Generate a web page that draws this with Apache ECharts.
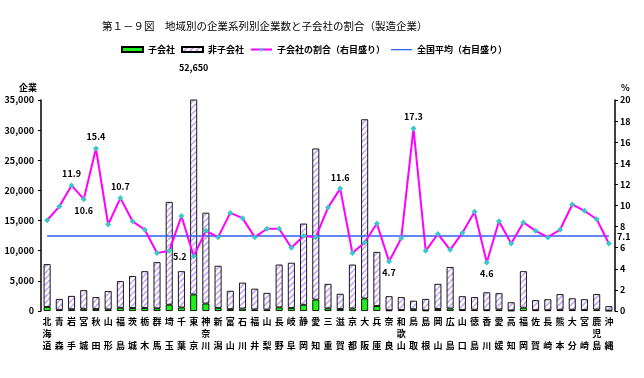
<!DOCTYPE html>
<html><head><meta charset="utf-8">
<script src="https://cdn.jsdelivr.net/npm/echarts@6/dist/echarts.min.js"></script>
<style>html,body{margin:0;padding:0;background:#fff}#c{width:644px;height:378px}</style>
</head><body><div id="c"></div>
<script>
const titleText = '第１－９図　地域別の企業系列別企業数と子会社の割合（製造企業）';
const prefectures = ['北海道','青森','岩手','宮城','秋田','山形','福島','茨城','栃木','群馬','埼玉','千葉','東京','神奈川','新潟','富山','石川','福井','山梨','長野','岐阜','静岡','愛知','三重','滋賀','京都','大阪','兵庫','奈良','和歌山','鳥取','島根','岡山','広島','山口','徳島','香川','愛媛','高知','福岡','佐賀','長崎','熊本','大分','宮崎','鹿児島','沖縄'];
const subsidiaries = [670,200,300,370,350,270,530,490,500,450,1040,590,2740,1240,520,310,410,260,230,600,480,1030,1890,440,330,420,2080,820,120,160,290,110,330,420,180,220,140,250,90,550,140,140,210,210,180,240,50];
const nonSubsidiaries = [7100,1800,2200,3080,1950,3030,4420,5310,6100,7650,17060,6010,49910,15060,6980,3040,4290,3440,2770,7100,7520,13470,25060,4060,2520,7280,29720,8980,2330,2140,1410,1890,4170,6880,2270,2080,2960,2700,1360,6050,1660,1810,2590,1890,1770,2560,750];
const subsidiaryRatio = [8.6,9.9,11.9,10.6,15.4,8.2,10.7,8.5,7.7,5.5,5.7,9.0,5.2,7.6,7.0,9.3,8.8,7.0,7.8,7.8,6.0,7.1,7.0,9.8,11.6,5.5,6.5,8.3,4.7,6.9,17.3,5.7,7.3,5.8,7.4,9.4,4.6,8.5,6.4,8.4,7.6,7.0,7.7,10.1,9.5,8.7,6.4];
const nationalAverage = 7.1;
const leftTicks = {min:0, max:35000, interval:5000};
const rightTicks = {min:0, max:20, interval:2};
const labeledRatio = {'岩手':'top','宮城':'bottom','秋田':'top','福島':'top','東京':'left','滋賀':'top','奈良':'bottom','鳥取':'top','香川':'bottom'};
const seriesNames = ['子会社','非子会社','子会社の割合（右目盛り）','全国平均（右目盛り）'];

const FONT = '"Noto Sans CJK JP", sans-serif';
const tokyoIdx = prefectures.indexOf('東京');
const tokyoTotal = subsidiaries[tokyoIdx] + nonSubsidiaries[tokyoIdx];

function makeHatch() {
  const n = 6;
  const cv = document.createElement('canvas');
  cv.width = n; cv.height = n;
  const g = cv.getContext('2d');
  g.fillStyle = '#ffffff'; g.fillRect(0, 0, n, n);
  g.strokeStyle = '#c6aaf4'; g.lineWidth = 1.7;
  for (let k = -1; k <= 1; k++) {
    g.beginPath();
    g.moveTo(k * n, n); g.lineTo(k * n + n, 0);
    g.stroke();
  }
  return cv;
}
const hatch = {image: makeHatch(), repeat: 'repeat'};
const thinLineIcon = 'path://M0,0L0.05,0L0.05,0.05ZM0,2L21,2L21,3.3L0,3.3ZM0,5L0.05,5L0.05,4.95Z';

const ratioData = subsidiaryRatio.map((v, i) => {
  const pos = labeledRatio[prefectures[i]];
  if (!pos) return v;
  return {value: v, label: {show: true, position: pos, distance: 4}};
});

const chart = echarts.init(document.getElementById('c'), null, {renderer: 'canvas'});
chart.setOption({
  backgroundColor: '#ffffff',
  animation: false,
  textStyle: {fontFamily: FONT, color: '#000'},
  title: {text: titleText, left: 97, top: 16,
    textStyle: {fontFamily: FONT, fontSize: 10.5, fontWeight: 'normal', color: '#000'}},
  legend: {
    left: 121, top: 45, itemWidth: 21, itemHeight: 5, itemGap: 6, padding: 0,
    textStyle: {fontFamily: FONT, fontSize: 9, fontWeight: 'bold', color: '#000'},
    data: [
      {name: seriesNames[0], icon: 'rect'},
      {name: seriesNames[1], icon: 'rect'},
      {name: seriesNames[2]},
      {name: seriesNames[3], icon: thinLineIcon, itemStyle: {color: '#3060f0'}}
    ]
  },
  grid: {left: 41, right: 29, top: 100, bottom: 67},
  xAxis: {
    type: 'category', data: prefectures,
    axisLine: {show: false}, axisTick: {show: false},
    axisLabel: {interval: 0, margin: 5, fontSize: 9, fontWeight: 'bold', lineHeight: 12, color: '#000',
      formatter: s => s.length === 2 ? s[0] + '\n\n' + s[1] : s.split('').join('\n')}
  },
  yAxis: [
    {type: 'value', min: leftTicks.min, max: leftTicks.max, interval: leftTicks.interval,
      name: '企業', nameLocation: 'end', nameGap: 8,
      nameTextStyle: {fontSize: 9, fontWeight: 'bold', color: '#000', align: 'right', padding: [0, 4, 0, 0]},
      axisLine: {show: true, lineStyle: {color: '#000', width: 1.5}},
      axisTick: {show: true, length: 3, lineStyle: {color: '#000'}},
      splitLine: {show: false},
      axisLabel: {fontSize: 9, fontWeight: 'bold', color: '#000', margin: 7,
        formatter: v => v.toLocaleString('en-US')}},
    {type: 'value', min: rightTicks.min, max: rightTicks.max, interval: rightTicks.interval,
      name: '%', nameLocation: 'end', nameGap: 8,
      nameTextStyle: {fontSize: 9, fontWeight: 'bold', color: '#000', align: 'left', padding: [0, 0, 0, 6]},
      axisLine: {show: true, lineStyle: {color: '#000', width: 1.5}},
      axisTick: {show: true, length: 3, lineStyle: {color: '#000'}},
      splitLine: {show: false},
      axisLabel: {fontSize: 9, fontWeight: 'bold', color: '#000', margin: 5}}
  ],
  series: [
    {name: seriesNames[0], type: 'bar', stack: 'total', barWidth: 7, data: subsidiaries,
      itemStyle: {color: '#1ef01e', borderColor: '#000', borderWidth: 0.9}},
    {name: seriesNames[1], type: 'bar', stack: 'total', barWidth: 7, data: nonSubsidiaries,
      clip: true,
      itemStyle: {color: hatch, borderColor: '#000', borderWidth: 0.9},
      markPoint: {symbol: 'circle', symbolSize: 0,
        label: {show: true, fontSize: 9, fontWeight: 'bold', color: '#000', offset: [0, -32],
          formatter: () => tokyoTotal.toLocaleString('en-US')},
        data: [{coord: [tokyoIdx, leftTicks.max]}]}},
    {name: seriesNames[2], type: 'line', yAxisIndex: 1, data: ratioData,
      symbol: 'diamond', symbolSize: 6, z: 5,
      lineStyle: {color: '#ff00ff', width: 2},
      itemStyle: {color: '#3cc8c8'},
      label: {show: false, fontSize: 9, fontWeight: 'bold', color: '#000', formatter: p => p.value.toFixed(1)}},
    {name: seriesNames[3], type: 'line', yAxisIndex: 1, z: 4,
      data: prefectures.map(() => nationalAverage), symbol: 'none',
      lineStyle: {color: '#3060f0', width: 1.5}, itemStyle: {color: '#3060f0'},
      endLabel: {show: true, distance: 8, fontSize: 9, fontWeight: 'bold', color: '#000',
        formatter: () => nationalAverage.toFixed(1)}}
  ]
});
</script></body></html>
